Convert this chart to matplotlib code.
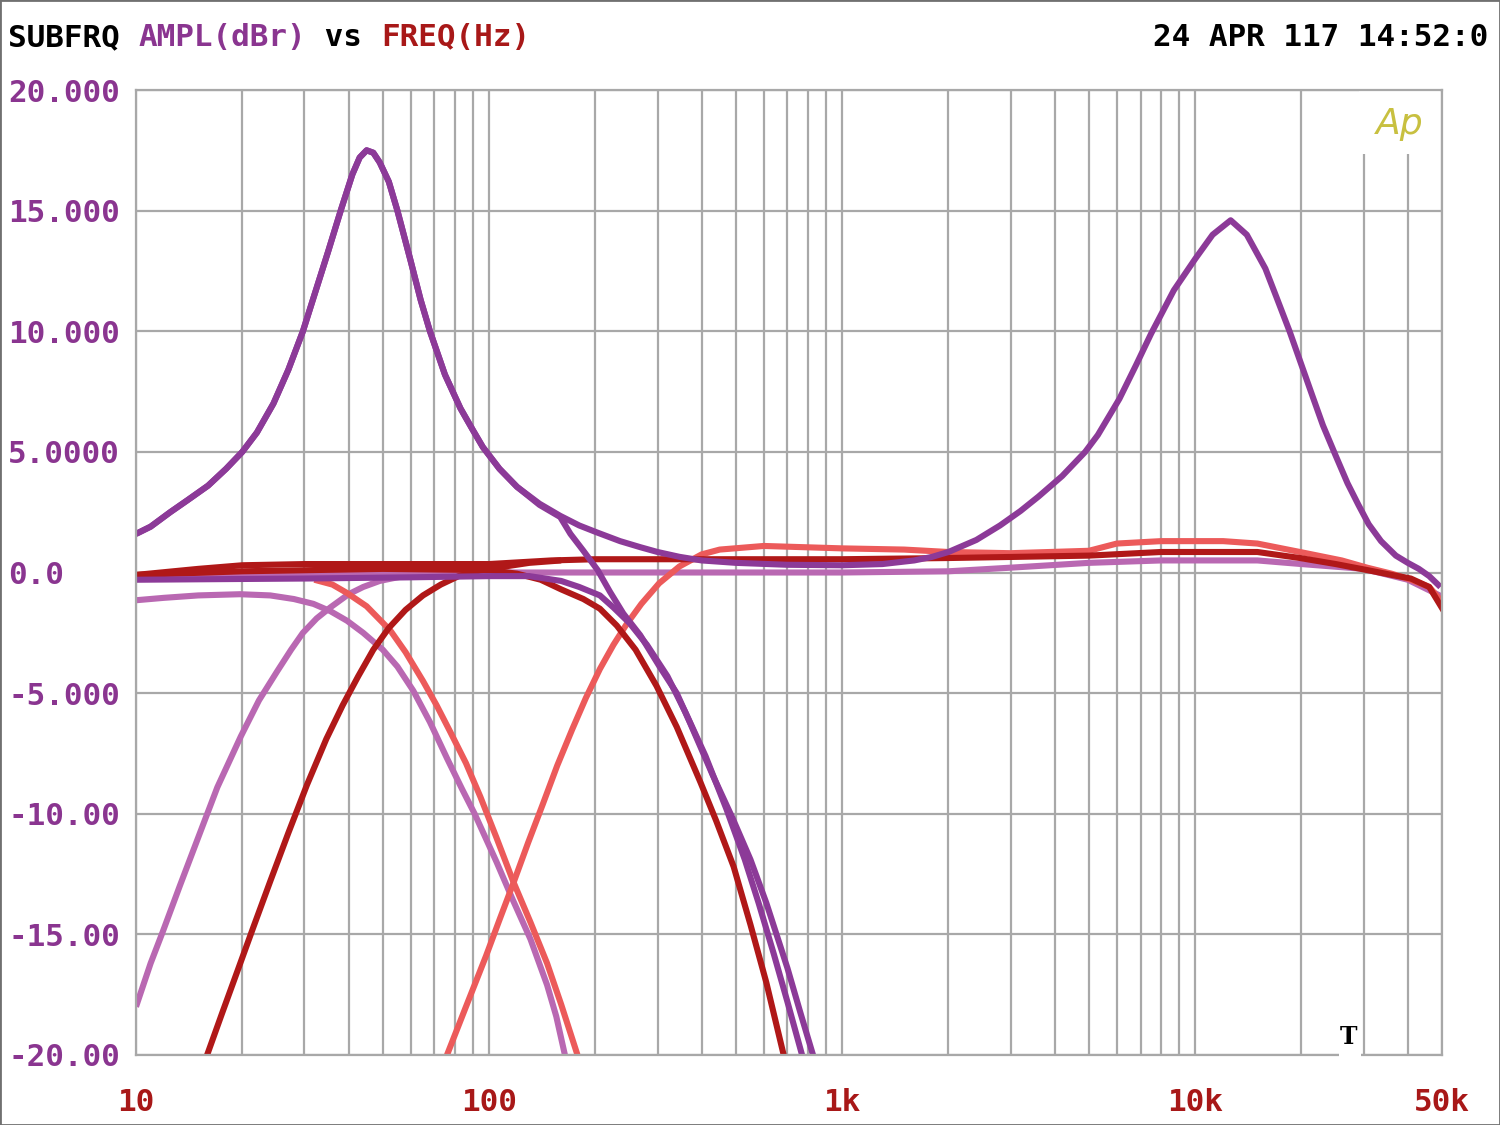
import matplotlib
matplotlib.use("Agg")
import matplotlib.pyplot as plt
from matplotlib.patches import Rectangle
from matplotlib.ticker import FixedLocator, NullFormatter

# ---------------- data ----------------
# dark purple: bass + treble boost, full range
dp1_f = [10, 11, 12.5, 14, 16, 18, 20, 22, 24.5, 27, 29.7, 32, 35, 38, 41, 43, 45, 47, 49,
         52, 55, 60, 64, 68, 75, 83, 90, 96, 107, 120, 139, 159, 180, 203, 235, 268, 300,
         346, 400, 500, 700, 1000, 1300, 1600, 1800, 2000, 2400, 2800, 3200, 3600, 4200,
         4880, 5300, 6100, 6800, 7500, 8700, 10000, 11200, 12600, 14000, 15800, 17000,
         18500, 20000, 21500, 23000, 24900, 27000, 29000, 31000, 33600, 37000, 40000,
         43000, 46000, 49500]
dp1_db = [1.6, 1.9, 2.5, 3.0, 3.6, 4.3, 5.0, 5.8, 7.0, 8.4, 10.0, 11.5, 13.3, 15.0, 16.5,
          17.2, 17.5, 17.4, 17.0, 16.2, 15.0, 12.9, 11.3, 10.0, 8.2, 6.8, 5.9, 5.2, 4.3, 3.55,
          2.85, 2.35, 1.95, 1.65, 1.3, 1.05, 0.85, 0.65, 0.5, 0.4, 0.32, 0.3, 0.35, 0.5, 0.65,
          0.85, 1.35, 1.95, 2.55, 3.15, 4.0, 5.0, 5.7, 7.2, 8.6, 9.9, 11.7, 13.0, 14.0, 14.6,
          14.0, 12.6, 11.4, 10.0, 8.6, 7.3, 6.1, 4.9, 3.7, 2.8, 2.0, 1.3, 0.7, 0.4, 0.15,
          -0.15, -0.6]
# dark purple: bass boost + low pass
dp2_f = [10, 11, 12.5, 14, 16, 18, 20, 22, 24.5, 27, 29.7, 32, 35, 38, 41, 43, 45, 47, 49,
         52, 55, 60, 64, 68, 75, 83, 90, 96, 107, 120, 139, 159, 170, 185, 203, 220, 240,
         268, 304, 340, 370, 430, 490, 550, 610, 700, 760, 827]
dp2_db = [1.6, 1.9, 2.5, 3.0, 3.6, 4.3, 5.0, 5.8, 7.0, 8.4, 10.0, 11.5, 13.3, 15.0, 16.5,
          17.2, 17.5, 17.4, 17.0, 16.2, 15.0, 12.9, 11.3, 10.0, 8.2, 6.8, 5.9, 5.2, 4.3, 3.55,
          2.8, 2.3, 1.6, 0.9, 0.1, -0.8, -1.7, -2.6, -3.9, -5.0, -6.2, -8.4, -10.2, -11.9,
          -13.7, -16.4, -18.2, -20.0]
# dark purple: flat + low pass
dp3_f = [10, 30, 60, 100, 130, 160, 180, 206, 225, 250, 280, 320, 360, 410, 470, 530, 580,
         640, 700, 770]
dp3_db = [-0.3, -0.25, -0.2, -0.15, -0.15, -0.35, -0.6, -0.95, -1.45, -2.1, -3.0, -4.3, -5.8,
          -7.6, -9.8, -11.9, -13.7, -15.8, -17.8, -20.0]

# light purple: flat
lp1_f = [10, 20, 50, 100, 1000, 2000, 3000, 5000, 8000, 10000, 15000, 20000, 30000, 40000,
         50000]
lp1_db = [-0.2, -0.1, 0.0, 0.0, 0.0, 0.05, 0.2, 0.4, 0.5, 0.5, 0.5, 0.35, 0.15, -0.3, -1.0]
# light purple: high pass (subsonic)
lp2_f = [10, 11, 11.9, 13.3, 14.9, 17, 19.8, 22.3, 25.1, 27.5, 29.7, 32.5, 35.5, 40, 44, 49,
         55, 60, 100]
lp2_db = [-18.0, -16.2, -14.9, -13.0, -11.1, -8.9, -6.8, -5.3, -4.1, -3.2, -2.5, -1.9, -1.45,
          -0.9, -0.6, -0.35, -0.2, -0.1, 0.0]
# light purple: low pass
lp3_f = [10, 12, 15, 19.7, 24, 28, 31.8, 35.5, 39.6, 44, 50, 55, 61, 68, 76, 84, 91, 105,
         117, 131, 146, 155, 164]
lp3_db = [-1.15, -1.05, -0.95, -0.9, -0.95, -1.1, -1.3, -1.6, -2.0, -2.5, -3.2, -3.9, -4.9,
          -6.2, -7.7, -9.0, -10.0, -12.0, -13.6, -15.2, -17.1, -18.4, -20.0]

# dark red: flat
dr1_f = [10, 15, 20, 30, 50, 100, 150, 200, 1000, 2000, 5000, 8000, 15000, 19800, 25000,
         30700, 36000, 40800, 46000, 50600]
dr1_db = [-0.1, 0.15, 0.3, 0.35, 0.35, 0.35, 0.5, 0.55, 0.55, 0.6, 0.7, 0.85, 0.85, 0.6,
          0.35, 0.1, -0.1, -0.25, -0.6, -1.6]
# dark red: high pass
dr2_f = [15.9, 17.5, 19.4, 21.5, 24, 27, 30.5, 34.6, 38.5, 42.6, 47, 52, 58, 65, 73, 82, 92,
         100, 130, 160]
dr2_db = [-20.0, -18.3, -16.5, -14.7, -12.8, -10.8, -8.8, -6.9, -5.5, -4.3, -3.2, -2.3,
          -1.55, -0.95, -0.5, -0.15, 0.05, 0.15, 0.4, 0.5]
# dark red: low pass
dr3_f = [10, 20, 50, 100, 120, 140, 160, 185, 206, 230, 260, 298, 340, 397, 440, 493, 550,
         610, 683]
dr3_db = [-0.1, 0.05, 0.15, 0.1, -0.05, -0.3, -0.7, -1.1, -1.5, -2.2, -3.2, -4.7, -6.4, -8.7,
          -10.3, -12.2, -14.6, -17.0, -20.0]

# salmon: low pass
sr1_f = [32, 36, 39.6, 45, 52.5, 58, 65, 71, 77.6, 86, 94.5, 105, 117, 131, 146, 160, 178]
sr1_db = [-0.3, -0.5, -0.85, -1.4, -2.4, -3.3, -4.5, -5.5, -6.6, -7.9, -9.3, -11.0, -12.8,
          -14.5, -16.2, -17.9, -20.0]
# salmon: high pass
sr2_f = [76, 86, 98, 107, 117, 129, 142, 156, 172, 188, 206, 225, 245, 270, 303, 346, 400,
         450, 600, 1000, 1500, 2000, 3000, 5000, 6000, 8000, 12000, 15000, 19800, 26000,
         30700, 36000, 40800, 46000, 50600]
sr2_db = [-20.0, -18.0, -15.9, -14.4, -12.9, -11.2, -9.6, -8.0, -6.5, -5.2, -4.0, -3.0,
          -2.15, -1.3, -0.45, 0.25, 0.75, 0.95, 1.1, 1.0, 0.95, 0.85, 0.8, 0.9, 1.2, 1.3,
          1.3, 1.2, 0.85, 0.5, 0.2, -0.05, -0.3, -0.6, -1.3]

x_major = [10, 100, 1000, 10000, 50000]
x_labels = ["10", "100", "1k", "10k", "50k"]
y_ticks = [20, 15, 10, 5, 0, -5, -10, -15, -20]
y_labels = ["20.000", "15.000", "10.000", "5.0000", "0.0", "-5.000", "-10.00", "-15.00", "-20.00"]
grid_f = [m * d for d in (10, 100, 1000, 10000) for m in range(1, 10)] + [50000]

# ---------------- style ----------------
C_DP = "#8c3a98"
C_LP = "#b968b2"
C_DR = "#b01818"
C_SR = "#ec5a5a"
C_YLAB = "#8a3590"
C_XLAB = "#a81818"
C_GRID = "#a8a8a8"
MONO = "DejaVu Sans Mono"
FS = 22.3
FW = "bold"

W, H = 1500, 1125
fig = plt.figure(figsize=(W / 100, H / 100), dpi=100)
ax = fig.add_axes([136 / W, 1 - 1055 / H, (1442 - 136) / W, (1055 - 90) / H])
ax.set_xscale("log")
ax.set_xlim(10, 50000)
ax.set_ylim(-20, 20)

ax.xaxis.set_major_locator(FixedLocator(x_major))
ax.xaxis.set_minor_locator(FixedLocator(grid_f))
ax.xaxis.set_minor_formatter(NullFormatter())
ax.set_xticks(x_major)
ax.set_xticklabels(x_labels)
ax.set_yticks(y_ticks)
ax.set_yticklabels(y_labels)
ax.grid(True, which="both", axis="x", color=C_GRID, lw=1.6, zorder=0)
ax.grid(True, which="major", axis="y", color=C_GRID, lw=1.6, zorder=0)
ax.set_axisbelow(True)
for s in ax.spines.values():
    s.set_color(C_GRID)
    s.set_linewidth(1.6)

ax.tick_params(which="both", length=0)
ax.tick_params(axis="y", pad=92, labelsize=FS, labelcolor=C_YLAB)
ax.tick_params(axis="x", pad=24, labelsize=FS, labelcolor=C_XLAB)
for t in ax.get_yticklabels():
    t.set_fontfamily(MONO)
    t.set_fontweight(FW)
    t.set_horizontalalignment("left")
for t in ax.get_xticklabels():
    t.set_fontfamily(MONO)
    t.set_fontweight(FW)

LW = 4.4
curves = [
    (lp1_f, lp1_db, C_LP), (lp2_f, lp2_db, C_LP), (lp3_f, lp3_db, C_LP),
    (sr1_f, sr1_db, C_SR), (sr2_f, sr2_db, C_SR),
    (dr1_f, dr1_db, C_DR), (dr2_f, dr2_db, C_DR), (dr3_f, dr3_db, C_DR),
    (dp3_f, dp3_db, C_DP), (dp2_f, dp2_db, C_DP), (dp1_f, dp1_db, C_DP),
]
for i, (f, d, c) in enumerate(curves):
    ax.plot(f, d, color=c, lw=LW, solid_capstyle="butt", solid_joinstyle="round",
            zorder=2 + i * 0.01)

# white box behind the "Ap" logo (grid hidden there)
ax.add_patch(Rectangle((0.9367, 0.9335), 0.062, 0.0655, transform=ax.transAxes,
                       facecolor="white", edgecolor="none", zorder=1.5))
ax.text(0.968, 0.965, "Ap", transform=ax.transAxes, ha="center", va="center",
        fontsize=26, color="#c8c040", style="italic", family="DejaVu Sans",
        fontweight="light", zorder=3)

# "T" marker with gap in the bottom frame
ax.add_patch(Rectangle((0.9215, -0.004), 0.0165, 0.008, transform=ax.transAxes,
                       facecolor="white", edgecolor="none", zorder=3, clip_on=False))
ax.text(0.9285, 0.019, "T", transform=ax.transAxes, ha="center", va="center",
        fontsize=17, fontweight="bold", family="DejaVu Serif", color="black", zorder=4)

# title line
adv = 0.602 * FS * 100 / 72 / W
ty = 1 - 38 / H
x0 = 8 / W
parts = [("SUBFRQ ", "black"), ("AMPL(dBr)", C_YLAB), (" vs ", "black"), ("FREQ(Hz)", C_XLAB)]
n = 0
for s, c in parts:
    fig.text(x0 + n * adv, ty, s, color=c, fontsize=FS, family=MONO, fontweight=FW,
             va="center", ha="left")
    n += len(s)
fig.text(1488 / W, ty, "24 APR 117 14:52:0", color="black", fontsize=FS, family=MONO,
         fontweight=FW, va="center", ha="right")

fig.patches.append(Rectangle((0, 0), 1, 1, transform=fig.transFigure, fill=False,
                             edgecolor="#707070", lw=2))

fig.savefig("out.png", dpi=100, facecolor="white")
